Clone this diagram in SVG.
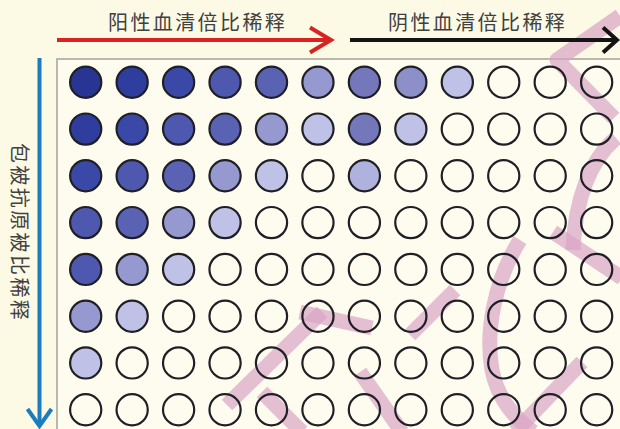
<svg xmlns="http://www.w3.org/2000/svg" width="620" height="429" viewBox="0 0 620 429">
<style>
.bg{fill:#fcf9e5}
.plate{fill:#fefcee;stroke:#a8a8a0;stroke-width:1.6}
.lbl{font-family:"Noto Sans CJK SC","Noto Sans",sans-serif;font-size:20px;fill:#404040;letter-spacing:2.4px}
.wm{fill:none;stroke:#d8a4c4;stroke-width:15;stroke-linecap:butt;stroke-linejoin:round;opacity:0.7}
.w{stroke:#1f1f26;stroke-width:2.2;fill:none}
.d1{fill:#283592}.d2{fill:#2f3e9e}.d3{fill:#3a49a7}.d4{fill:#4e58ae}.d5{fill:#5a63b3}
.l1{fill:#9699cf}.l2{fill:#c0c1e6}.m1{fill:#7478ba}.m2{fill:#8c8fc8}.m3{fill:#b0b2de}
.arr{fill:none;stroke-width:4;stroke-linecap:butt;stroke-linejoin:miter}
</style>
<rect class="bg" x="0" y="0" width="620" height="429"/>
<rect id="plate" class="plate" x="57" y="59" width="600" height="400"/>
<g id="watermark">
<path class="wm" d="M620 16 L557 60 L614 118"/>
<path class="wm" d="M616 138 C590 160 575 200 573 250"/>
<path class="wm" d="M520 240 C495 280 485 330 492 370 C498 400 515 418 533 432"/>
<path class="wm" d="M553 232 L622 278"/>
<path class="wm" d="M300 312 L372 328"/>
<path class="wm" d="M410 335 L455 290"/>
<path class="wm" d="M360 372 L402 432"/>
<path class="wm" d="M582 362 L515 432"/>
<path class="wm" d="M227 405 L322 312"/>
<path class="wm" d="M262 392 L302 432"/>
</g>
<g id="wells">
<g id="row1">
<circle class="w d1" cx="85.7" cy="82.3" r="15.6"/><circle class="w d2" cx="132.15" cy="82.3" r="15.6"/><circle class="w d3" cx="178.6" cy="82.3" r="15.6"/><circle class="w d4" cx="225.05" cy="82.3" r="15.6"/><circle class="w d5" cx="271.5" cy="82.3" r="15.6"/><circle class="w l1" cx="317.95" cy="82.3" r="15.6"/><circle class="w m1" cx="364.4" cy="82.3" r="15.6"/><circle class="w m2" cx="410.85" cy="82.3" r="15.6"/><circle class="w l2" cx="457.3" cy="82.3" r="15.6"/><circle class="w" cx="503.75" cy="82.3" r="15.6"/><circle class="w" cx="550.2" cy="82.3" r="15.6"/><circle class="w" cx="596.65" cy="82.3" r="15.6"/>
</g>
<g id="row2">
<circle class="w d2" cx="85.7" cy="129.1" r="15.6"/><circle class="w d3" cx="132.15" cy="129.1" r="15.6"/><circle class="w d4" cx="178.6" cy="129.1" r="15.6"/><circle class="w d5" cx="225.05" cy="129.1" r="15.6"/><circle class="w l1" cx="271.5" cy="129.1" r="15.6"/><circle class="w l2" cx="317.95" cy="129.1" r="15.6"/><circle class="w m1" cx="364.4" cy="129.1" r="15.6"/><circle class="w l2" cx="410.85" cy="129.1" r="15.6"/><circle class="w" cx="457.3" cy="129.1" r="15.6"/><circle class="w" cx="503.75" cy="129.1" r="15.6"/><circle class="w" cx="550.2" cy="129.1" r="15.6"/><circle class="w" cx="596.65" cy="129.1" r="15.6"/>
</g>
<g id="row3">
<circle class="w d3" cx="85.7" cy="175.8" r="15.6"/><circle class="w d4" cx="132.15" cy="175.8" r="15.6"/><circle class="w d5" cx="178.6" cy="175.8" r="15.6"/><circle class="w l1" cx="225.05" cy="175.8" r="15.6"/><circle class="w l2" cx="271.5" cy="175.8" r="15.6"/><circle class="w" cx="317.95" cy="175.8" r="15.6"/><circle class="w m3" cx="364.4" cy="175.8" r="15.6"/><circle class="w" cx="410.85" cy="175.8" r="15.6"/><circle class="w" cx="457.3" cy="175.8" r="15.6"/><circle class="w" cx="503.75" cy="175.8" r="15.6"/><circle class="w" cx="550.2" cy="175.8" r="15.6"/><circle class="w" cx="596.65" cy="175.8" r="15.6"/>
</g>
<g id="row4">
<circle class="w d4" cx="85.7" cy="222.6" r="15.6"/><circle class="w d5" cx="132.15" cy="222.6" r="15.6"/><circle class="w l1" cx="178.6" cy="222.6" r="15.6"/><circle class="w l2" cx="225.05" cy="222.6" r="15.6"/><circle class="w" cx="271.5" cy="222.6" r="15.6"/><circle class="w" cx="317.95" cy="222.6" r="15.6"/><circle class="w" cx="364.4" cy="222.6" r="15.6"/><circle class="w" cx="410.85" cy="222.6" r="15.6"/><circle class="w" cx="457.3" cy="222.6" r="15.6"/><circle class="w" cx="503.75" cy="222.6" r="15.6"/><circle class="w" cx="550.2" cy="222.6" r="15.6"/><circle class="w" cx="596.65" cy="222.6" r="15.6"/>
</g>
<g id="row5">
<circle class="w d4" cx="85.7" cy="269.4" r="15.6"/><circle class="w l1" cx="132.15" cy="269.4" r="15.6"/><circle class="w l2" cx="178.6" cy="269.4" r="15.6"/><circle class="w" cx="225.05" cy="269.4" r="15.6"/><circle class="w" cx="271.5" cy="269.4" r="15.6"/><circle class="w" cx="317.95" cy="269.4" r="15.6"/><circle class="w" cx="364.4" cy="269.4" r="15.6"/><circle class="w" cx="410.85" cy="269.4" r="15.6"/><circle class="w" cx="457.3" cy="269.4" r="15.6"/><circle class="w" cx="503.75" cy="269.4" r="15.6"/><circle class="w" cx="550.2" cy="269.4" r="15.6"/><circle class="w" cx="596.65" cy="269.4" r="15.6"/>
</g>
<g id="row6">
<circle class="w l1" cx="85.7" cy="316.2" r="15.6"/><circle class="w l2" cx="132.15" cy="316.2" r="15.6"/><circle class="w" cx="178.6" cy="316.2" r="15.6"/><circle class="w" cx="225.05" cy="316.2" r="15.6"/><circle class="w" cx="271.5" cy="316.2" r="15.6"/><circle class="w" cx="317.95" cy="316.2" r="15.6"/><circle class="w" cx="364.4" cy="316.2" r="15.6"/><circle class="w" cx="410.85" cy="316.2" r="15.6"/><circle class="w" cx="457.3" cy="316.2" r="15.6"/><circle class="w" cx="503.75" cy="316.2" r="15.6"/><circle class="w" cx="550.2" cy="316.2" r="15.6"/><circle class="w" cx="596.65" cy="316.2" r="15.6"/>
</g>
<g id="row7">
<circle class="w l2" cx="85.7" cy="362.9" r="15.6"/><circle class="w" cx="132.15" cy="362.9" r="15.6"/><circle class="w" cx="178.6" cy="362.9" r="15.6"/><circle class="w" cx="225.05" cy="362.9" r="15.6"/><circle class="w" cx="271.5" cy="362.9" r="15.6"/><circle class="w" cx="317.95" cy="362.9" r="15.6"/><circle class="w" cx="364.4" cy="362.9" r="15.6"/><circle class="w" cx="410.85" cy="362.9" r="15.6"/><circle class="w" cx="457.3" cy="362.9" r="15.6"/><circle class="w" cx="503.75" cy="362.9" r="15.6"/><circle class="w" cx="550.2" cy="362.9" r="15.6"/><circle class="w" cx="596.65" cy="362.9" r="15.6"/>
</g>
<g id="row8">
<circle class="w" cx="85.7" cy="409.7" r="15.6"/><circle class="w" cx="132.15" cy="409.7" r="15.6"/><circle class="w" cx="178.6" cy="409.7" r="15.6"/><circle class="w" cx="225.05" cy="409.7" r="15.6"/><circle class="w" cx="271.5" cy="409.7" r="15.6"/><circle class="w" cx="317.95" cy="409.7" r="15.6"/><circle class="w" cx="364.4" cy="409.7" r="15.6"/><circle class="w" cx="410.85" cy="409.7" r="15.6"/><circle class="w" cx="457.3" cy="409.7" r="15.6"/><circle class="w" cx="503.75" cy="409.7" r="15.6"/><circle class="w" cx="550.2" cy="409.7" r="15.6"/><circle class="w" cx="596.65" cy="409.7" r="15.6"/>
</g>
</g>
<g id="connectors">
<g id="arrow-positive">
<path class="arr" stroke="#d92323" d="M57 40 H330"/>
<path class="arr" stroke="#d92323" d="M310 27.5 L331 40 L310 52.5"/>
</g>
<g id="arrow-negative">
<path class="arr" stroke="#141414" d="M350 40 H616"/>
<path class="arr" stroke="#141414" d="M603 27.5 L617 40 L603 52.5"/>
</g>
<g id="arrow-antigen">
<path class="arr" stroke="#1b7cc0" d="M39.5 58 V426"/>
<path class="arr" stroke="#1b7cc0" d="M27.5 409 L39.5 426 L51.5 409"/>
</g>
</g>
<g id="labels">
<text id="label-positive" class="lbl" x="108" y="30">阳性血清倍比稀释</text>
<text id="label-negative" class="lbl" x="388" y="30">阴性血清倍比稀释</text>
<text id="label-antigen" class="lbl" transform="translate(20,143) rotate(90)" dominant-baseline="central">包被抗原被比稀释</text>
</g>
</svg>
